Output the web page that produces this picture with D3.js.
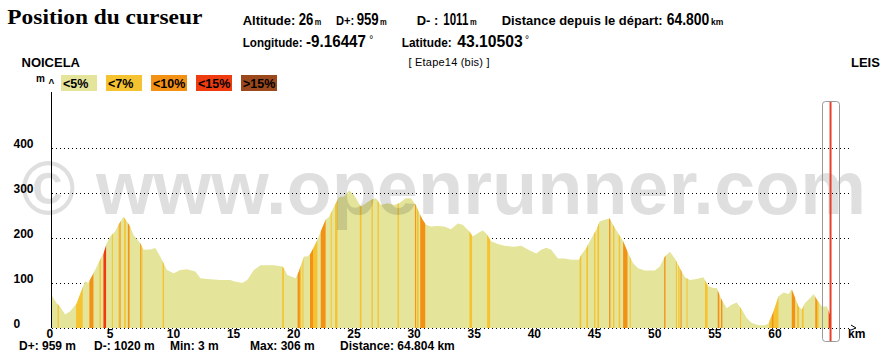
<!DOCTYPE html>
<html><head><meta charset="utf-8">
<script src="https://cdn.jsdelivr.net/npm/d3@7"></script>
<style>
html,body{margin:0;padding:0;background:#fff;}
svg{display:block;}
text{font-family:"Liberation Sans",Arial,sans-serif;}
</style></head>
<body>
<svg id="c" width="886" height="358"></svg>
<script>
// ---- data ----
const km = [0,0.47,0.75,1.17,1.58,2.14,2.56,2.83,3.1,3.53,
4.08,4.36,4.64,4.92,5.33,5.61,6.03,6.31,6.58,6.86,
7.42,7.69,8.25,8.67,9.08,9.64,10.19,10.75,11.31,12.0,
12.42,12.97,14.08,14.92,15.19,15.89,16.31,16.86,17.42,18.53,
19.22,19.36,19.64,19.92,20.33,20.6,21.03,21.31,21.58,21.86,
22.14,22.42,22.83,23.11,23.53,23.94,24.36,24.78,25.19,25.75,
26.17,26.58,27.0,27.42,27.97,28.53,28.94,29.5,29.92,30.33,
30.61,30.89,31.17,31.58,32.14,32.69,33.25,33.81,34.22,34.78,
35.06,35.47,35.89,36.17,36.58,37.14,37.69,38.53,39.08,39.64,
40.33,40.75,41.17,41.58,42.14,42.69,43.25,43.89,44.08,44.5,
44.92,45.33,45.61,46.03,46.44,46.72,47.14,47.56,47.97,48.39,
48.81,49.36,50.19,50.61,51.03,51.44,51.86,52.28,52.69,53.11,
53.67,54.22,54.64,55.06,55.33,55.75,56.17,56.58,57.0,57.42,
57.83,58.25,58.81,59.36,59.64,60.06,60.47,60.89,61.31,61.58,
61.86,62.14,62.42,62.69,63.11,63.39,63.67,64.08,64.5,64.8];
const elev = [75,55,48,30,37,55,85,104,100,122,
152,166,189,204,215,230,248,237,226,207,
189,174,175,178,159,129,122,129,131,126,
111,109,107,107,104,100,107,129,140,140,
137,133,118,115,111,126,159,159,166,181,
196,215,241,248,270,292,293,306,296,270,
278,285,289,274,278,274,278,289,289,274,
256,241,230,226,227,226,220,233,230,215,
204,211,217,211,193,187,183,181,183,175,
166,174,179,174,155,155,152,152,163,178,
200,219,237,241,244,230,211,193,167,144,
133,128,128,137,159,170,155,133,113,107,
109,113,93,89,89,63,44,52,57,41,
22,11,6,6,10,37,70,79,76,86,
67,48,41,56,67,76,63,48,48,26];

// grade stripes (km from, km to, grade class index)
const stripeFrom = [0.55,2.08,3.19,4.03,4.36,5.06,5.61,5.70,6.08,6.39,7.42,7.50,9.28,19.22,20.50,20.69,20.90,21.53,21.78,22.42,23.25,23.61,25.67,26.64,27.14,28.81,30.25,30.39,30.69,34.78,36.25,43.94,44.50,45.14,45.42,46.39,46.72,47.19,47.56,48.11,50.97,51.94,52.14,52.33,52.83,54.36,55.42,55.69,57.28,59.69,59.92,60.08,61.58,62.00,62.42,63.53,63.67,64.64];
const stripeTo   = [0.65,2.64,3.53,4.14,4.58,5.14,5.70,5.78,6.22,6.53,7.50,7.60,9.39,19.36,20.69,20.80,20.96,21.78,22.14,22.83,23.33,23.81,25.81,26.75,27.25,28.92,30.33,30.56,31.11,35.00,36.50,44.08,44.64,45.25,45.56,46.50,46.83,47.31,47.92,48.19,51.08,52.03,52.25,52.42,52.92,54.58,55.56,55.81,57.36,59.92,60.08,60.47,61.86,62.19,62.56,63.67,63.81,64.78];
const stripeGrade= [1,1,2,1,3,1,1,2,1,2,2,1,1,1,2,1,1,2,1,2,1,1,1,1,1,1,2,1,2,1,1,1,1,1,1,2,1,1,2,1,2,1,1,2,1,1,2,2,1,1,2,1,2,1,1,2,1,3];

const gradeLabels = ["<5%","<7%","<10%","<15%",">15%"];
const gradeColors = ["#e4e49b","#f5c331","#f39115","#ee3b10","#9b481c"];
const yTicks = [0,100,200,300,400];
const xTicks = [0,5,10,15,20,25,30,35,40,45,50,55,60];
const cursorKm = 64.8;

// header pieces: text, kind, left x, width
const headerLine1 = [["Altitude:","lab",242.7,52.6],["26","val",298.7,14.6],["m","unit",314.7,6.5],
  ["D+:","lab",336,18.3],["959","val",356.7,22],["m","unit",380,6.7],
  ["D- :","lab",416.7,21.6],["1011","val",443.3,25],["m","unit",470,6.7],
  ["Distance depuis le départ:","lab",501.7,161],["64.800","val",666.7,42.6],["km","unit",711,12.3]];
const headerLine2 = [["Longitude:","lab",242.7,60],["-9.16447","val",306,60],["°","deg",369.3,4],
  ["Latitude:","lab",401.7,50],["43.10503","val",457.3,65.4],["°","deg",525,4]];
const statsTexts = ["D+: 959 m","D-: 1020 m","Min: 3 m","Max: 306 m","Distance: 64.804 km"];

// ---- drawing ----
const svg = d3.select("#c");
const x = d3.scaleLinear().domain([0,65]).range([51, 51+65*12.03]);
const y = d3.scaleLinear().domain([0,400]).range([328, 148.4]);

// gridlines
svg.append("g").selectAll("line").data(yTicks).join("line")
  .attr("x1", 52).attr("x2", 849)
  .attr("y1", d=>Math.round(y(d))+0.5).attr("y2", d=>Math.round(y(d))+0.5)
  .attr("stroke","#000").attr("stroke-width",1).attr("stroke-dasharray","1,3");

// arrow at end of baseline
svg.append("path").attr("d", `M851,${y(0)-3} L856,${y(0)} L851,${y(0)+2}`)
  .attr("fill","none").attr("stroke","#000").attr("stroke-width",1);
svg.append("text").attr("x",848).attr("y",338).attr("font-size",12).attr("font-weight","bold").text("km");

// profile
const pts = km.map((k,i)=>[k, elev[i]]);
const area = d3.area().x(d=>x(d[0])).y0(y(0)).y1(d=>y(d[1]));
const defs = svg.append("defs");
defs.append("clipPath").attr("id","prof").append("path").attr("d", area(pts));
svg.append("path").attr("d", area(pts)).attr("fill", gradeColors[0]);
svg.append("g").attr("clip-path","url(#prof)").selectAll("rect")
  .data(stripeFrom.map((f,i)=>({f, t:stripeTo[i], g:stripeGrade[i]}))).join("rect")
  .attr("x", d=>x(d.f)).attr("width", d=>Math.max(1, x(d.t)-x(d.f)))
  .attr("y", y(400)-30).attr("height", y(0)-y(400)+30)
  .attr("fill", d=>gradeColors[d.g]);

// watermark
svg.append("text").attr("x",21).attr("y",214)
  .attr("font-size",76).attr("font-weight","bold")
  .attr("fill","#000").attr("fill-opacity",0.125)
  .attr("textLength",845).attr("lengthAdjust","spacingAndGlyphs")
  .text("© www.openrunner.com");

// y axis
svg.append("line").attr("x1",51.5).attr("x2",51.5).attr("y1",92).attr("y2",y(0))
  .attr("stroke","#000").attr("stroke-width",1);
svg.append("text").attr("x",36).attr("y",82).attr("font-size",10).attr("font-weight","bold").text("m");
svg.append("text").attr("x",48.5).attr("y",87).attr("font-size",10).attr("font-weight","bold").text("^");
svg.append("g").selectAll("text").data(yTicks).join("text")
  .attr("x",13.5).attr("y", d=>y(d)-0.5)
  .attr("font-size",12).attr("font-weight","bold").text(d=>d);

// x labels
svg.append("g").selectAll("text").data(xTicks).join("text")
  .attr("x", d=>x(d)-4.5).attr("y",338)
  .attr("font-size",12).attr("font-weight","bold").text(d=>d);

// legend
const lg = svg.append("g").selectAll("g").data(gradeLabels).join("g")
  .attr("transform",(d,i)=>`translate(${61+i*45},75)`);
lg.append("rect").attr("width",36).attr("height",16).attr("fill",(d,i)=>gradeColors[i]);
lg.append("text").attr("x",2).attr("y",12.5).attr("font-size",12.5).attr("font-weight","bold").attr("fill","#000").text(d=>d);

// start / end names and route name
svg.append("text").attr("x",21.5).attr("y",66.5).attr("font-size",13).attr("font-weight","bold").text("NOICELA");
svg.append("text").attr("x",851).attr("y",66.5).attr("font-size",13).attr("font-weight","bold").text("LEIS");
svg.append("text").attr("x",449).attr("y",66).attr("text-anchor","middle").attr("font-size",11)
  .attr("textLength",81).attr("lengthAdjust","spacing").text("[ Etape14 (bis) ]");

// cursor
svg.append("rect").attr("x",822.5).attr("y",101.5).attr("width",17).attr("height",240).attr("rx",3)
  .attr("fill","none").attr("stroke","#9a9a9a").attr("stroke-width",1);
svg.append("line").attr("x1",x(cursorKm)).attr("x2",x(cursorKm)).attr("y1",102).attr("y2",341)
  .attr("stroke","#e8412b").attr("stroke-width",2);

// header
svg.append("text").attr("x",7.3).attr("y",23.5)
  .style("font-family","'Liberation Serif','Times New Roman',serif")
  .attr("font-size",22).attr("font-weight","bold")
  .attr("textLength",195).attr("lengthAdjust","spacingAndGlyphs").text("Position du curseur");

const sizes = {lab:13, val:16.5, unit:9.5, deg:10};
function headerLine(items, yy){
  svg.append("g").selectAll("text").data(items).join("text")
    .attr("x", d=>d[2])
    .attr("y", d=> d[1]==="deg" ? yy-4 : yy)
    .attr("font-size", d=>sizes[d[1]])
    .attr("font-weight", d=> d[1]==="deg" ? "normal" : "bold")
    .attr("textLength", d=>d[3]).attr("lengthAdjust","spacingAndGlyphs")
    .text(d=>d[0]);
}
headerLine(headerLine1, 25);
headerLine(headerLine2, 46.5);

// bottom stats
const statX = [19,94,170,250,340];
svg.append("g").selectAll("text").data(statsTexts).join("text")
  .attr("x",(d,i)=>statX[i]).attr("y",350).attr("font-size",12).attr("font-weight","bold").text(d=>d);
</script>
</body></html>
